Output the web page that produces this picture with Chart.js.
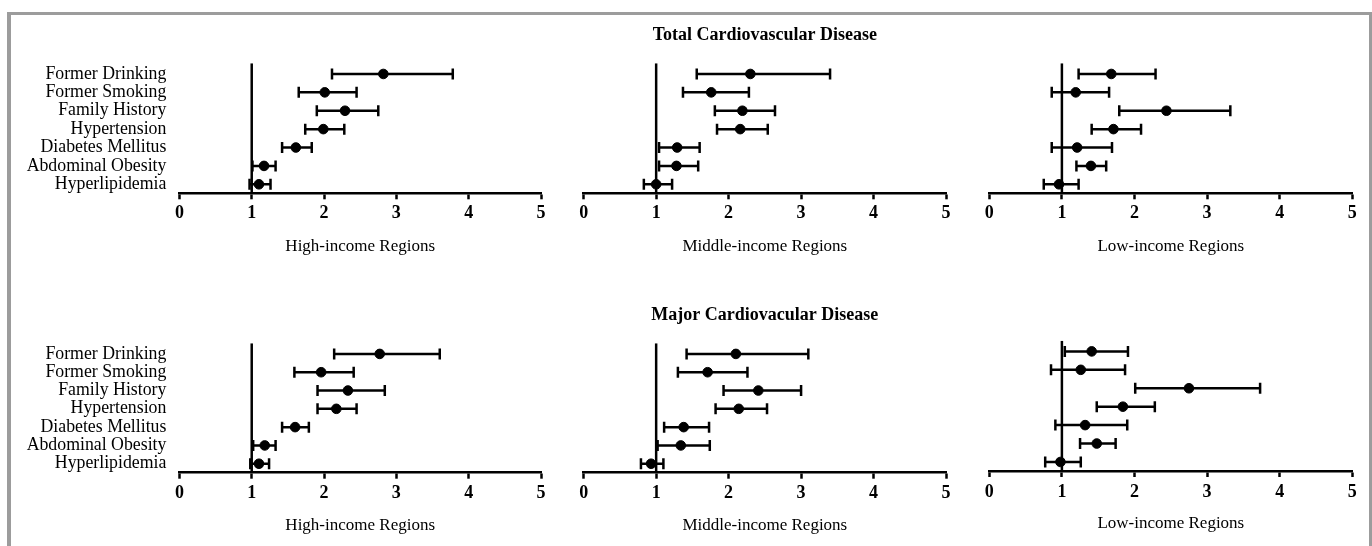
<!DOCTYPE html>
<html>
<head>
<meta charset="utf-8">
<script src="https://cdn.jsdelivr.net/npm/chart.js@4.4.1/dist/chart.umd.min.js"></script>
<style>
html,body{margin:0;padding:0;background:#fff;width:1372px;height:546px;overflow:hidden;position:relative;}
canvas{position:absolute;}
#frame{position:absolute;left:7px;top:12px;width:1365px;height:600px;box-sizing:border-box;border-left:4px solid #9c9c9c;border-top:3px solid #9c9c9c;border-right:3px solid #9c9c9c;pointer-events:none;}
</style>
</head>
<body>
<canvas id="p1" width="560" height="273" style="left:0;top:0"></canvas>
<canvas id="p2" width="400" height="273" style="left:560px;top:0"></canvas>
<canvas id="p3" width="412" height="273" style="left:960px;top:0"></canvas>
<canvas id="p4" width="560" height="273" style="left:0;top:273px"></canvas>
<canvas id="p5" width="400" height="273" style="left:560px;top:273px"></canvas>
<canvas id="p6" width="412" height="273" style="left:960px;top:273px"></canvas>
<div id="frame"></div>
<script>
// ---------- DATA ----------
const categories = ["Former Drinking","Former Smoking","Family History","Hypertension","Diabetes Mellitus","Abdominal Obesity","Hyperlipidemia"];
const xTickValues = [0,1,2,3,4,5];
const referenceValue = 1;
const titleTotal = "Total Cardiovascular Disease";
const titleMajor = "Major Cardiovacular Disease";
const regionTitles = ["High-income Regions","Middle-income Regions","Low-income Regions"];

// Total Cardiovascular Disease
const totalHighOR = [2.82, 2.01, 2.29, 1.99, 1.61, 1.17, 1.10];
const totalHighLo = [2.11, 1.65, 1.90, 1.74, 1.42, 1.01, 0.97];
const totalHighHi = [3.78, 2.45, 2.75, 2.28, 1.83, 1.33, 1.26];

const totalMidOR = [2.30, 1.76, 2.19, 2.16, 1.29, 1.28, 1.00];
const totalMidLo = [1.56, 1.37, 1.81, 1.84, 1.04, 1.04, 0.83];
const totalMidHi = [3.40, 2.28, 2.64, 2.54, 1.60, 1.58, 1.22];

const totalLowOR = [1.68, 1.19, 2.44, 1.71, 1.21, 1.40, 0.96];
const totalLowLo = [1.23, 0.86, 1.79, 1.41, 0.86, 1.20, 0.75];
const totalLowHi = [2.29, 1.65, 3.32, 2.09, 1.69, 1.61, 1.23];

// Major Cardiovascular Disease
const majorHighOR = [2.77, 1.96, 2.33, 2.17, 1.60, 1.18, 1.10];
const majorHighLo = [2.14, 1.59, 1.91, 1.91, 1.42, 1.02, 0.98];
const majorHighHi = [3.60, 2.41, 2.84, 2.45, 1.79, 1.33, 1.24];

const majorMidOR = [2.10, 1.71, 2.41, 2.14, 1.38, 1.34, 0.93];
const majorMidLo = [1.42, 1.30, 1.93, 1.82, 1.11, 1.02, 0.79];
const majorMidHi = [3.10, 2.26, 3.00, 2.53, 1.73, 1.74, 1.10];

const majorLowOR = [1.41, 1.26, 2.75, 1.84, 1.32, 1.48, 0.98];
const majorLowLo = [1.04, 0.85, 2.01, 1.48, 0.91, 1.25, 0.77];
const majorLowHi = [1.91, 1.87, 3.73, 2.28, 1.90, 1.74, 1.26];

// ---------- CHART ----------
const SERIF = "'Liberation Serif','Times New Roman',Times,serif";
const yMin = -0.58, yMax = 6.49;

function makePanel(id, o) {
  const dots = {
    data: o.or.map((v, i) => ({x: v, y: i})),
    showLine: false,
    pointRadius: 4.8,
    pointBackgroundColor: '#000',
    pointBorderColor: '#000',
    pointBorderWidth: 1
  };
  const whiskers = o.lo.map((l, i) => ({
    data: [{x: l, y: i}, {x: o.hi[i], y: i}],
    showLine: true,
    borderColor: '#000',
    borderWidth: 2.5,
    pointStyle: 'line',
    pointRotation: 90,
    pointRadius: 5.5,
    pointBorderColor: '#000',
    pointBorderWidth: 2.5
  }));
  const refLine = {
    data: [{x: referenceValue, y: yMin}, {x: referenceValue, y: yMax}],
    showLine: true,
    borderColor: '#000',
    borderWidth: 2.5,
    pointRadius: 0
  };
  new Chart(document.getElementById(id), {
    type: 'scatter',
    data: {datasets: [dots, ...whiskers, refLine]},
    options: {
      responsive: false,
      animation: false,
      events: [],
      devicePixelRatio: 1,
      layout: {padding: {top: o.padTop, right: o.padRight, bottom: 0, left: 0}},
      plugins: {
        legend: {display: false},
        tooltip: {enabled: false},
        title: {
          display: !!o.title,
          text: o.title || '',
          fullSize: false,
          color: '#000',
          font: {family: SERIF, size: 18, weight: 'bold'},
          padding: {top: o.titlePadTop || 0, bottom: o.titlePadBottom || 0}
        }
      },
      scales: {
        x: {
          type: 'linear',
          min: xTickValues[0],
          max: xTickValues[xTickValues.length - 1],
          afterBuildTicks: s => { s.ticks = xTickValues.map(v => ({value: v})); },
          afterFit: s => { s.height = o.xHeight; },
          grid: {display: true, drawOnChartArea: false, drawTicks: true, tickLength: 6, tickWidth: 2.5, tickColor: '#000'},
          border: {display: true, color: '#000', width: 2.5},
          ticks: {color: '#000', padding: o.tickPad, font: {family: SERIF, size: 18, weight: 'bold'}, maxRotation: 0},
          title: {display: true, text: o.xTitle, color: '#000', font: {family: SERIF, size: 17}, padding: {top: 0, bottom: o.xTitlePadBottom}}
        },
        y: {
          type: 'linear',
          reverse: true,
          min: yMin,
          max: yMax,
          afterBuildTicks: s => { s.ticks = categories.map((c, i) => ({value: i})); },
          afterFit: s => { s.width = o.yWidth; },
          grid: {display: false, drawTicks: false},
          border: {display: false},
          ticks: {
            display: o.showLabels,
            color: '#000',
            padding: 13,
            autoSkip: false,
            font: {family: SERIF, size: 17.8},
            callback: v => categories[v]
          }
        }
      }
    }
  });
}

// top row
makePanel('p1', {or: totalHighOR, lo: totalHighLo, hi: totalHighHi, showLabels: true, xTitle: regionTitles[0],
  padTop: 63.3, padRight: 19, yWidth: 179.4, xHeight: 79.7, tickPad: 3.6, xTitlePadBottom: 16.1});
makePanel('p2', {or: totalMidOR, lo: totalMidLo, hi: totalMidHi, showLabels: false, xTitle: regionTitles[1], title: titleTotal,
  titlePadTop: 24.2, titlePadBottom: 17.5,
  padTop: 0, padRight: 14, yWidth: 23.7, xHeight: 79.7, tickPad: 3.6, xTitlePadBottom: 16.1});
makePanel('p3', {or: totalLowOR, lo: totalLowLo, hi: totalLowHi, showLabels: false, xTitle: regionTitles[2],
  padTop: 63.3, padRight: 19.7, yWidth: 29.3, xHeight: 79.7, tickPad: 3.6, xTitlePadBottom: 16.1});
// bottom row
makePanel('p4', {or: majorHighOR, lo: majorHighLo, hi: majorHighHi, showLabels: true, xTitle: regionTitles[0],
  padTop: 70.3, padRight: 19, yWidth: 179.4, xHeight: 73.3, tickPad: 4.2, xTitlePadBottom: 9.8});
makePanel('p5', {or: majorMidOR, lo: majorMidLo, hi: majorMidHi, showLabels: false, xTitle: regionTitles[1], title: titleMajor,
  titlePadTop: 31.2, titlePadBottom: 17.5,
  padTop: 0, padRight: 14, yWidth: 23.7, xHeight: 73.3, tickPad: 4.2, xTitlePadBottom: 9.8});
makePanel('p6', {or: majorLowOR, lo: majorLowLo, hi: majorLowHi, showLabels: false, xTitle: regionTitles[2],
  padTop: 67.7, padRight: 19.7, yWidth: 29.3, xHeight: 75, tickPad: 4.2, xTitlePadBottom: 12.5});
</script>
</body>
</html>
